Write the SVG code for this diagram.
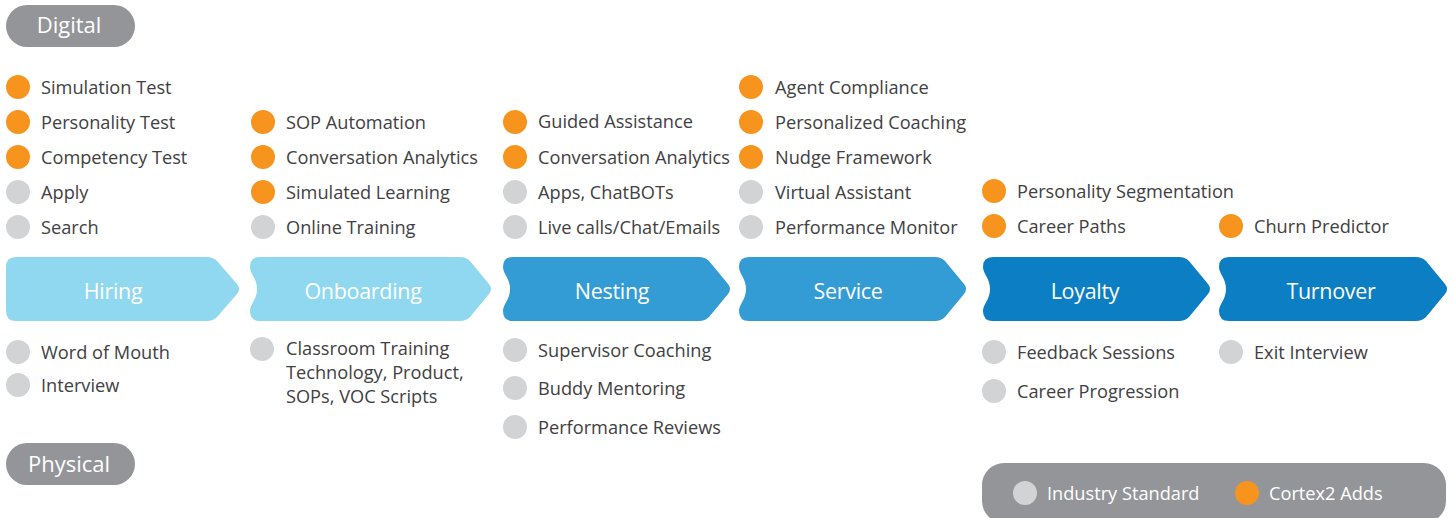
<svg xmlns="http://www.w3.org/2000/svg" width="1454" height="518" viewBox="0 0 1454 518">
  <style>
    text { font-family: "Open Sans", "Noto Sans", "Liberation Sans", sans-serif; }
    .item { font-size: 18.2px; fill: #414042; }
    .stage { font-size: 21.5px; fill: #ffffff; text-anchor: middle; letter-spacing: -0.3px; }
    .pill { fill: #939598; }
    .pill-label { font-size: 22px; fill: #ffffff; text-anchor: middle; }
    .legend-label { font-size: 18.2px; fill: #ffffff; }
    .add { fill: #F7941D; }
    .std { fill: #D1D3D4; }
    .light { fill: #8FD8F0; }
    .mid { fill: #339CD5; }
    .dark { fill: #0C7EC3; }
  </style>

  <!-- channel tags -->
  <g id="tag-digital">
    <rect class="pill" x="6" y="5" width="129" height="42" rx="21"/>
    <text class="pill-label" x="69" y="33">Digital</text>
  </g>
  <g id="tag-physical">
    <rect class="pill" x="6" y="443" width="129" height="42" rx="21"/>
    <text class="pill-label" x="69" y="472">Physical</text>
  </g>

  <!-- journey stages -->
  <g id="stage-hiring">
    <path class="light" d="M16,257 H207 Q213,257 217,261 L237,284 Q241,289 237,294 L217,317 Q213,321 207,321 H16 Q6,321 6,311 V267 Q6,257 16,257 Z"/>
    <text class="stage" x="113" y="299">Hiring</text>
  </g>
  <g id="stage-onboarding">
    <path class="light" d="M260,257 H460 Q466,257 470,261 L489,284 Q493,289 489,294 L470,317 Q466,321 460,321 H260 Q250,321 250,311 C250,304 257,300 257,289 C257,278 250,274 250,267 Q250,257 260,257 Z"/>
    <text class="stage" x="363" y="299">Onboarding</text>
  </g>
  <g id="stage-nesting">
    <path class="mid" d="M513,257 H699 Q705,257 709,261 L728,284 Q732,289 728,294 L709,317 Q705,321 699,321 H513 Q503,321 503,311 C503,304 510,300 510,289 C510,278 503,274 503,267 Q503,257 513,257 Z"/>
    <text class="stage" x="612" y="299">Nesting</text>
  </g>
  <g id="stage-service">
    <path class="mid" d="M749,257 H935 Q941,257 945,261 L964,284 Q968,289 964,294 L945,317 Q941,321 935,321 H749 Q739,321 739,311 C739,304 746,300 746,289 C746,278 739,274 739,267 Q739,257 749,257 Z"/>
    <text class="stage" x="848" y="299">Service</text>
  </g>
  <g id="stage-loyalty">
    <path class="dark" d="M993,257 H1179 Q1185,257 1189,261 L1208,284 Q1212,289 1208,294 L1189,317 Q1185,321 1179,321 H993 Q983,321 983,311 C983,304 990,300 990,289 C990,278 983,274 983,267 Q983,257 993,257 Z"/>
    <text class="stage" x="1085" y="299">Loyalty</text>
  </g>
  <g id="stage-turnover">
    <path class="dark" d="M1229,257 H1416 Q1422,257 1426,261 L1445,284 Q1449,289 1445,294 L1426,317 Q1422,321 1416,321 H1229 Q1219,321 1219,311 C1219,304 1226,300 1226,289 C1226,278 1219,274 1219,267 Q1219,257 1229,257 Z"/>
    <text class="stage" x="1331" y="299">Turnover</text>
  </g>

  <!-- digital touchpoints (above the stages) -->
  <g id="hiring-digital">
    <circle class="add" cx="18" cy="87" r="12"/><text class="item" x="41" y="94">Simulation Test</text>
    <circle class="add" cx="18" cy="122" r="12"/><text class="item" x="41" y="129">Personality Test</text>
    <circle class="add" cx="18" cy="157" r="12"/><text class="item" x="41" y="164">Competency Test</text>
    <circle class="std" cx="18" cy="192" r="12"/><text class="item" x="41" y="199">Apply</text>
    <circle class="std" cx="18" cy="227" r="12"/><text class="item" x="41" y="234">Search</text>
  </g>
  <g id="onboarding-digital">
    <circle class="add" cx="263" cy="122" r="12"/><text class="item" x="286" y="129">SOP Automation</text>
    <circle class="add" cx="263" cy="157" r="12"/><text class="item" x="286" y="164">Conversation Analytics</text>
    <circle class="add" cx="263" cy="192" r="12"/><text class="item" x="286" y="199">Simulated Learning</text>
    <circle class="std" cx="263" cy="227" r="12"/><text class="item" x="286" y="234">Online Training</text>
  </g>
  <g id="nesting-digital">
    <circle class="add" cx="515" cy="122" r="12"/><text class="item" x="538" y="128">Guided Assistance</text>
    <circle class="add" cx="515" cy="157" r="12"/><text class="item" x="538" y="164">Conversation Analytics</text>
    <circle class="std" cx="515" cy="192" r="12"/><text class="item" x="538" y="199">Apps, ChatBOTs</text>
    <circle class="std" cx="515" cy="227" r="12"/><text class="item" x="538" y="234">Live calls/Chat/Emails</text>
  </g>
  <g id="service-digital">
    <circle class="add" cx="751" cy="87" r="12"/><text class="item" x="775" y="94">Agent Compliance</text>
    <circle class="add" cx="751" cy="122" r="12"/><text class="item" x="775" y="129">Personalized Coaching</text>
    <circle class="add" cx="751" cy="157" r="12"/><text class="item" x="775" y="164">Nudge Framework</text>
    <circle class="std" cx="751" cy="192" r="12"/><text class="item" x="775" y="199">Virtual Assistant</text>
    <circle class="std" cx="751" cy="227" r="12"/><text class="item" x="775" y="234">Performance Monitor</text>
  </g>
  <g id="loyalty-digital">
    <circle class="add" cx="994" cy="191" r="12"/><text class="item" x="1017" y="198">Personality Segmentation</text>
    <circle class="add" cx="994" cy="226" r="12"/><text class="item" x="1017" y="233">Career Paths</text>
  </g>
  <g id="turnover-digital">
    <circle class="add" cx="1231" cy="226" r="12"/><text class="item" x="1254" y="233">Churn Predictor</text>
  </g>

  <!-- physical touchpoints (below the stages) -->
  <g id="hiring-physical">
    <circle class="std" cx="18" cy="352" r="12"/><text class="item" x="41" y="359">Word of Mouth</text>
    <circle class="std" cx="18" cy="385" r="12"/><text class="item" x="41" y="392">Interview</text>
  </g>
  <g id="onboarding-physical">
    <circle class="std" cx="262" cy="349" r="12"/>
    <text class="item" x="286" y="355">Classroom Training</text>
    <text class="item" x="286" y="379">Technology, Product,</text>
    <text class="item" x="286" y="403">SOPs, VOC Scripts</text>
  </g>
  <g id="nesting-physical">
    <circle class="std" cx="515" cy="350" r="12"/><text class="item" x="538" y="357">Supervisor Coaching</text>
    <circle class="std" cx="515" cy="388" r="12"/><text class="item" x="538" y="395">Buddy Mentoring</text>
    <circle class="std" cx="515" cy="427" r="12"/><text class="item" x="538" y="434">Performance Reviews</text>
  </g>
  <g id="loyalty-physical">
    <circle class="std" cx="994" cy="352" r="12"/><text class="item" x="1017" y="359">Feedback Sessions</text>
    <circle class="std" cx="994" cy="391" r="12"/><text class="item" x="1017" y="398">Career Progression</text>
  </g>
  <g id="turnover-physical">
    <circle class="std" cx="1231" cy="352" r="12"/><text class="item" x="1254" y="359">Exit Interview</text>
  </g>

  <!-- key -->
  <g id="legend">
    <rect class="pill" x="982" y="463" width="464" height="60" rx="22"/>
    <circle class="std" cx="1025" cy="493" r="12"/><text class="legend-label" x="1047" y="500">Industry Standard</text>
    <circle class="add" cx="1247" cy="493" r="12"/><text class="legend-label" x="1269" y="500">Cortex2 Adds</text>
  </g>

  <!-- no connectors: the stages abut one another -->
  <g id="connectors"/>
</svg>
